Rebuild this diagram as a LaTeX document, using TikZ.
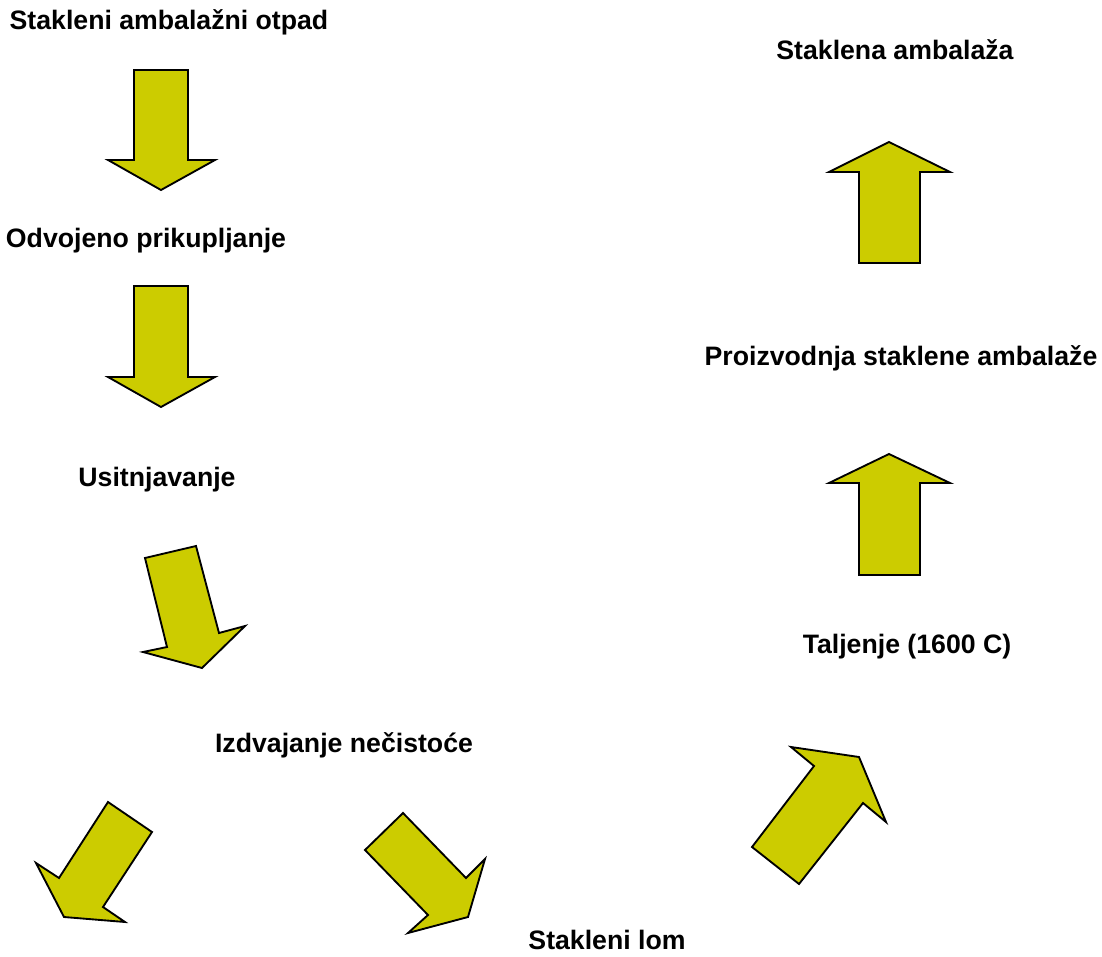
\documentclass[tikz,border=0pt]{standalone}
\usepackage{fontspec}
\setmainfont{Liberation Sans}
\begin{document}
\begin{tikzpicture}[x=0.75pt,y=-0.75pt,
  lbl/.style={font=\bfseries\fontsize{20pt}{24pt}\selectfont, inner sep=0pt, anchor=center},
  blockarrow/.style={fill=arrowfill, draw=black, line width=1.4pt, line join=miter}]
\definecolor{arrowfill}{RGB}{204,204,0}
\useasboundingbox (0,0) rectangle (1102,956);
% labels
\node[lbl] (t1) at (169,22) {Stakleni ambalažni otpad};
\node[lbl] (t2) at (146,241) {Odvojeno prikupljanje};
\node[lbl] (t3) at (157,480) {Usitnjavanje};
\node[lbl] (t4) at (344,745) {Izdvajanje nečistoće};
\node[lbl] (t5) at (607,940) {Stakleni lom};
\node[lbl] (t6) at (907,647) {Taljenje (1600 C)};
\node[lbl] (t7) at (901,358) {Proizvodnja staklene ambalaže};
\node[lbl] (t8) at (895,50) {Staklena ambalaža};
% arrows (block shapes)
\draw[blockarrow] (134,70) -- (188,70) -- (188,160) -- (215,160) -- (161,190) -- (108,160) -- (134,160) -- cycle;
\draw[blockarrow] (134,286) -- (188,286) -- (188,377) -- (215,377) -- (161,407) -- (108,377) -- (134,377) -- cycle;
\draw[blockarrow] (145,558) -- (196,546) -- (219,633) -- (245,626) -- (202,668) -- (143,652) -- (167,647) -- cycle;
\draw[blockarrow] (108,802) -- (152,832) -- (103,907) -- (125,922) -- (64,917) -- (36,863) -- (59,878) -- cycle;
\draw[blockarrow] (403,813) -- (466,878) -- (485,859) -- (468,917) -- (408,933) -- (428,915) -- (365,850) -- cycle;
\draw[blockarrow] (799,884) -- (863,803) -- (886,822) -- (859,757) -- (791,747) -- (814,766) -- (752,847) -- cycle;
\draw[blockarrow] (859,575) -- (920,575) -- (920,483) -- (950,483) -- (889,454) -- (829,483) -- (859,483) -- cycle;
\draw[blockarrow] (859,263) -- (920,263) -- (920,172) -- (950,172) -- (889,142) -- (829,172) -- (859,172) -- cycle;
\end{tikzpicture}
\end{document}
